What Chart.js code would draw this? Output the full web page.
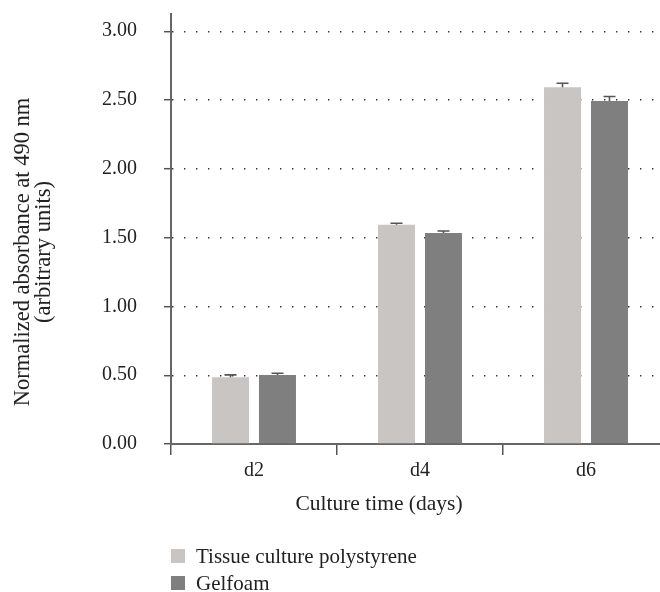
<!DOCTYPE html>
<html><head><meta charset="utf-8">
<script src="https://cdn.jsdelivr.net/npm/chart.js@4.4.1/dist/chart.umd.min.js"></script>
<style>html,body{margin:0;padding:0;overflow:hidden;background:#fff}#wrap{position:relative;width:680px;height:592px}</style>
</head><body><div id="wrap"><canvas id="c"></canvas></div>
<script>
const categories = ['d2', 'd4', 'd6'];
const seriesNames = ['Tissue culture polystyrene', 'Gelfoam'];
const tcpValues = [0.485, 1.594, 2.592];
const tcpErrors = [0.017, 0.010, 0.030];
const gelValues = [0.501, 1.533, 2.493];
const gelErrors = [0.013, 0.015, 0.032];
const yTickValues = [0, 0.5, 1, 1.5, 2, 2.5, 3];
const yTitle = ['Normalized absorbance at 490 nm', '(arbitrary units)'];
const xTitle = 'Culture time (days)';

const FONT = "'Liberation Serif', 'Times New Roman', serif";
const colors = ['#c9c5c3', '#7f7f7f'];

const errorBars = {
  id: 'errorBars',
  afterDatasetsDraw(chart) {
    const ctx = chart.ctx, y = chart.scales.y;
    ctx.save();
    ctx.strokeStyle = '#555';
    ctx.lineWidth = 1.6;
    chart.data.datasets.forEach((ds, i) => {
      const meta = chart.getDatasetMeta(i);
      meta.data.forEach((bar, j) => {
        const v = ds.data[j], e = ds.errors[j];
        const yt = y.getPixelForValue(v + e);
        const yb = y.getPixelForValue(v);
        ctx.beginPath();
        ctx.moveTo(bar.x, yb); ctx.lineTo(bar.x, yt);
        ctx.moveTo(bar.x - 6, yt); ctx.lineTo(bar.x + 6, yt);
        ctx.stroke();
      });
    });
    ctx.restore();
  }
};

const extras = {
  id: 'extras',
  afterDraw(chart) {
    const ctx = chart.ctx;
    // y-axis title
    ctx.save();
    ctx.fillStyle = '#222';
    ctx.font = "22.5px " + FONT;
    ctx.textAlign = 'center';
    ctx.textBaseline = 'middle';
    ctx.translate(23, 252);
    ctx.rotate(-Math.PI / 2);
    yTitle.forEach((t, i) => ctx.fillText(t, 0, i * 21.5));
    ctx.restore();
    // x-axis title
    ctx.save();
    ctx.fillStyle = '#222';
    ctx.font = "21.5px " + FONT;
    ctx.textAlign = 'center';
    ctx.textBaseline = 'alphabetic';
    ctx.fillText(xTitle, 379, 510);
    ctx.restore();
    // legend
    ctx.save();
    ctx.font = "21px " + FONT;
    ctx.textAlign = 'left';
    ctx.textBaseline = 'alphabetic';
    chart.data.datasets.forEach((ds, i) => {
      const yc = 556 + i * 27;
      ctx.fillStyle = ds.backgroundColor;
      ctx.fillRect(171, yc - 7, 14, 14);
      ctx.fillStyle = '#222';
      ctx.fillText(ds.label, 196, yc + 7);
    });
    ctx.restore();
  }
};

new Chart(document.getElementById('c'), {
  type: 'bar',
  data: {
    labels: categories,
    datasets: [
      { label: seriesNames[0], data: tcpValues, errors: tcpErrors, backgroundColor: colors[0] },
      { label: seriesNames[1], data: gelValues, errors: gelErrors, backgroundColor: colors[1] }
    ]
  },
  options: {
    responsive: true,
    maintainAspectRatio: false,
    animation: false,
    layout: { padding: { top: 14, right: 11, bottom: 62, left: 0 } },
    datasets: { bar: { categoryPercentage: 0.566, barPercentage: 0.787 } },
    plugins: { legend: { display: false }, tooltip: { enabled: false } },
    scales: {
      x: {
        type: 'category',
        afterFit(s) { s.height = 86; s.paddingLeft = 0; s.paddingRight = 0; },
        grid: { offset: true, drawOnChartArea: false, tickLength: 11, color: '#555', lineWidth: 1.5, tickBorderDash: [] },
        border: { color: '#666', width: 2 },
        ticks: { padding: 4, color: '#222', font: { family: FONT, size: 20 } },
        title: { display: false }
      },
      y: {
        min: 0,
        max: 3.125,
        afterFit(s) { s.width = 171; s.paddingTop = 0; s.paddingBottom = 0; },
        afterBuildTicks(s) { s.ticks = yTickValues.map(v => ({ value: v })); },
        grid: {
          color: c => (c.tick && c.tick.value === 0) ? 'rgba(0,0,0,0)' : '#333',
          lineWidth: 1.4,
          tickColor: '#555',
          tickWidth: 1.5,
          tickLength: 7,
          tickBorderDash: []
        },
        border: { color: '#666', width: 2, dash: [1.4, 10.6] },
        ticks: { padding: 27, color: '#222', font: { family: FONT, size: 20 }, callback: v => Number(v).toFixed(2) }
      }
    }
  },
  plugins: [errorBars, extras]
});
</script></body></html>
